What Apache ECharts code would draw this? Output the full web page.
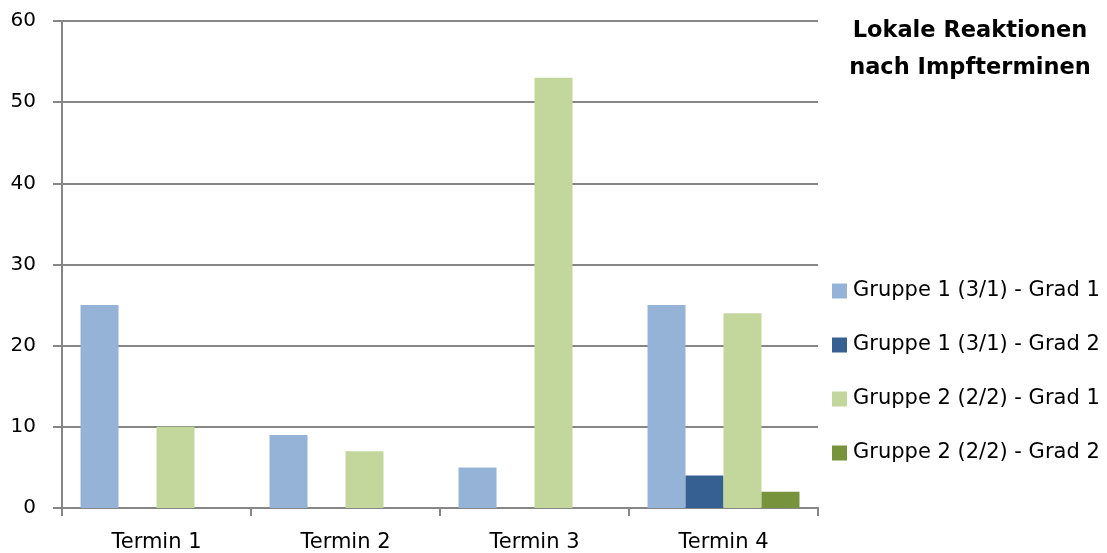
<!DOCTYPE html>
<html>
<head>
<meta charset="utf-8">
<script src="https://cdn.jsdelivr.net/npm/echarts@6/dist/echarts.min.js"></script>
<style>
  html, body { margin: 0; padding: 0; background: #fff; }
  #chart { width: 1107px; height: 553px; }
</style>
</head>
<body>
<div id="chart"></div>
<script>
// Local reactions per vaccination appointment
const categories = ['Termin 1', 'Termin 2', 'Termin 3', 'Termin 4'];
const g1Grad1 = [25, 9, 5, 25];
const g1Grad2 = [0, 0, 0, 4];
const g2Grad1 = [10, 7, 53, 24];
const g2Grad2 = [0, 0, 0, 2];
const seriesNames = [
  'Gruppe 1 (3/1) - Grad 1',
  'Gruppe 1 (3/1) - Grad 2',
  'Gruppe 2 (2/2) - Grad 1',
  'Gruppe 2 (2/2) - Grad 2'
];
const titleText = 'Lokale Reaktionen\nnach Impfterminen';

const colors = ['#95B3D7', '#366092', '#C3D69B', '#77933C'];
const labelFont = "'DejaVu Sans', sans-serif";
const axisGray = '#868686';

const chart = echarts.init(document.getElementById('chart'));
const data = [g1Grad1, g1Grad2, g2Grad1, g2Grad2];

chart.setOption({
  animation: false,
  color: colors,
  title: {
    text: titleText,
    left: 965,
    top: 8,
    padding: 5,
    textAlign: 'center',
    textStyle: {
      fontFamily: "'DejaVu Sans', sans-serif",
      fontWeight: 'bold',
      fontSize: 22.5,
      lineHeight: 37,
      color: '#000'
    }
  },
  legend: {
    orient: 'vertical',
    left: 827,
    top: 274,
    itemWidth: 15,
    itemHeight: 15,
    itemGap: 30,
    icon: 'rect',
    textStyle: { fontFamily: labelFont, fontSize: 21, lineHeight: 24, color: '#000', padding: [0, 0, 0, 1] },
    data: seriesNames
  },
  grid: { left: 62, right: 289, top: 21, bottom: 44, containLabel: false },
  xAxis: {
    type: 'category',
    data: categories,
    axisLine: { lineStyle: { color: axisGray, width: 2 } },
    axisTick: { show: true, length: 8, interval: 0, lineStyle: { color: axisGray, width: 2 } },
    axisLabel: { fontFamily: labelFont, fontSize: 21, color: '#000', margin: 24 }
  },
  yAxis: {
    type: 'value',
    min: 0,
    max: 60,
    interval: 10,
    axisLine: { show: true, lineStyle: { color: axisGray, width: 2 } },
    axisTick: { show: true, length: 9, lineStyle: { color: axisGray, width: 2 } },
    axisLabel: { fontFamily: labelFont, fontSize: 20, color: '#000', margin: 26 },
    splitLine: { lineStyle: { color: axisGray, width: 2 } }
  },
  series: seriesNames.map((name, i) => ({
    name,
    type: 'bar',
    data: data[i],
    barGap: '0%',
    barCategoryGap: '19.6%',
    itemStyle: { color: colors[i] }
  }))
});
</script>
</body>
</html>
